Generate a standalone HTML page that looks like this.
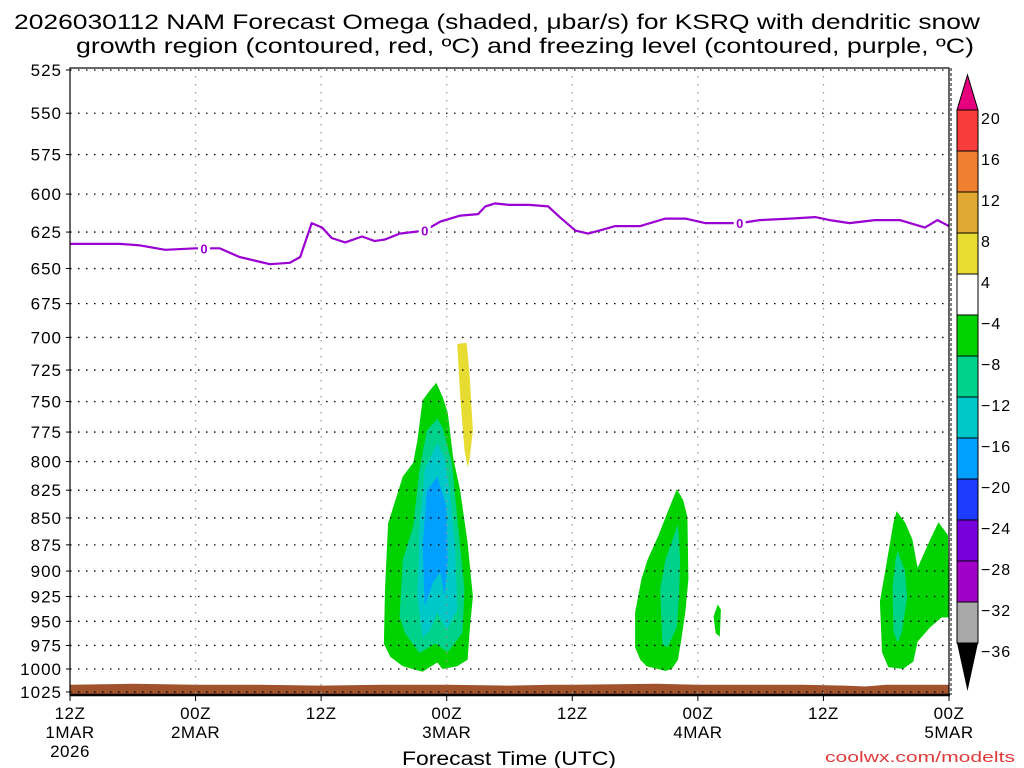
<!DOCTYPE html>
<html><head><meta charset="utf-8"><style>
body{margin:0;background:#fff;}
svg{display:block;font-family:"Liberation Sans",sans-serif;}
</style></head><body>
<svg id="chart" width="1024" height="768" xmlns="http://www.w3.org/2000/svg">
<g id="title">
<text x="14" y="29" font-size="21" textLength="966" lengthAdjust="spacingAndGlyphs" fill="#000">2026030112 NAM Forecast Omega (shaded, μbar/s) for KSRQ with dendritic snow</text>
<text x="76" y="53" font-size="21" textLength="898" lengthAdjust="spacingAndGlyphs" fill="#000">growth region (contoured, red, ºC) and freezing level (contoured, purple, ºC)</text>
</g>
<g id="fills"></g>
<g id="grid"></g>
<g id="lines"></g>
<g id="axes"></g>
<g id="cbar"></g>
<text x="402" y="765" font-size="19" textLength="214" lengthAdjust="spacingAndGlyphs">Forecast Time (UTC)</text>
<text x="825" y="762" font-size="15" textLength="190" lengthAdjust="spacingAndGlyphs" fill="#e03a3a">coolwx.com/modelts</text>
</svg>
<script>
const pTicks=[525,550,575,600,625,650,675,700,725,750,775,800,825,850,875,900,925,950,975,1000,1025];
const xTickHours=[0,12,24,36,48,60,72,84];
const xTickLabels=[["12Z","1MAR","2026"],["00Z","2MAR"],["12Z"],["00Z","3MAR"],["12Z"],["00Z","4MAR"],["12Z"],["00Z","5MAR"]];
const fzHours=[0,4.8,6.7,9.1,12,14.3,16.2,19.1,21,22,23.1,24.1,25,26.3,27.9,29.1,30.1,31.5,33.9,35.4,37.3,39,39.7,40.6,42,43.9,45.7,46.8,48.3,49.5,50.6,52.1,54.5,56.9,58.8,60.7,64,65.9,68.8,71.2,72.6,74.5,76.9,79.3,81.7,82.9,84];
const fzPres=[633,633,634,637,636,636,642,647,646,642,619,622,629,632,628,631,630,626,624,618,614,613,608,606,607,607,608,615,624,626,624,621,621,616,616,619,619,617,616,615,617,619,617,617,622,617,621];
const fzLabelHours=[12.8,33.9,64];
const groundHours=[0,6,12,18,24,30,36,42,46,48,56,60,70,74,76,78,84];
const groundPres=[1017,1016,1017,1017,1018,1017,1017,1018,1017,1017,1016,1017,1017,1018,1019,1017,1017];
const cbarLevels=[20,16,12,8,4,-4,-8,-12,-16,-20,-24,-28,-32,-36];
const cbarColors=["#f83c3c","#f08030","#e0a830","#e6dc32","#ffffff","#00d200","#00d28c","#00c8c8","#00a0ff","#1e3cff","#7800dc","#a000c8","#a8a8a8"];
const blobAGreenH=[35.0,34.4,33.7,33.2,32.8,31.8,31.1,30.4,30.1,30.0,30.6,31.8,33.7,35.1,35.6,37.0,38.0,38.2,38.5,38.0,37.3,36.6,36.1,35.6];
const blobAGreenP=[735,741,749,782,801,813,834,855,918,973,987,997,1003,993,1000,997,990,959,925,873,826,796,759,746];
const blobATealH=[35.1,34.1,33.4,32.8,31.8,31.5,32.0,33.4,34.9,36.1,37.5,37.7,37.1,36.5,35.6];
const blobATealP=[764,774,807,858,889,945,962,983,973,982,962,918,858,801,771];
const blobACyanH=[35.1,33.9,33.4,33.2,33.7,34.4,35.1,36.0,37.0,36.8,36.3,35.8];
const blobACyanP=[784,807,858,925,967,959,941,959,938,877,826,797];
const blobABlueH=[35.1,34.1,33.7,33.9,34.7,35.4,35.8,36.1,36.0];
const blobABlueP=[813,826,877,935,911,901,925,891,840];
const blobYellowH=[37.0,37.9,38.2,38.5,38.2,38.0,37.7,37.3];
const blobYellowP=[705,704,730,774,797,805,790,747];
const blobBGreenH=[58.0,58.6,59.0,59.1,58.8,58.4,58.1,57.5,56.9,55.1,54.5,54.0,54.0,54.6,55.2,56.2,57.1];
const blobBGreenP=[824,834,849,908,941,970,990,1000,1002,997,990,977,941,908,889,867,845];
const blobBTealH=[58.1,58.3,58.2,58.0,57.1,56.6,56.4,56.9];
const blobBTealP=[856,889,925,956,977,973,918,889];
const blobSmallH=[61.9,62.2,62.1,61.7,61.5];
const blobSmallP=[933,938,966,962,945];
const blobCGreenH=[79.0,79.8,80.5,81.0,82.2,83.0,83.9,84.0,83.3,82.2,81.0,80.6,79.6,78.2,77.6,77.4,77.9,78.7];
const blobCGreenP=[844,854,870,897,870,854,866,946,946,956,971,992,1000,998,982,930,900,854];
const blobCTealH=[79.1,79.8,80.0,79.5,79.1,78.7,78.6,78.9];
const blobCTealP=[881,900,926,961,972,961,916,889];

const NS="http://www.w3.org/2000/svg";
const X0=70,X1=949,Y0=70,PLOT_TOP=68,PLOT_BOT=695;
const xs=h=>X0+(X1-X0)*h/84;
const ys=p=>Y0+929.6*Math.log(p/525);
function mk(parent,tag,attrs){const e=document.createElementNS(NS,tag);for(const k in attrs)e.setAttribute(k,attrs[k]);document.getElementById(parent).appendChild(e);return e;}

const fills=[["#00d200",blobAGreenH,blobAGreenP,"omega-blob-a-8"],["#00d28c",blobATealH,blobATealP,"omega-blob-a-12"],["#00c8c8",blobACyanH,blobACyanP,"omega-blob-a-16"],["#00a0ff",blobABlueH,blobABlueP,"omega-blob-a-20"],["#e6dc32",blobYellowH,blobYellowP,"omega-blob-positive"],["#00d200",blobBGreenH,blobBGreenP,"omega-blob-b-8"],["#00d28c",blobBTealH,blobBTealP,"omega-blob-b-12"],["#00d200",blobSmallH,blobSmallP,"omega-blob-small"],["#00d200",blobCGreenH,blobCGreenP,"omega-blob-c-8"],["#00d28c",blobCTealH,blobCTealP,"omega-blob-c-12"]];
fills.forEach(f=>{
  const pts=f[1].map((h,i)=>xs(h).toFixed(1)+","+ys(f[2][i]).toFixed(1)).join(" ");
  const el=mk("fills","polygon",{points:pts,fill:f[0]});
  
  
});
{
  let pts=groundHours.map((h,i)=>xs(h).toFixed(1)+","+ys(groundPres[i]).toFixed(1)).join(" ");
  pts+=" "+X1+","+PLOT_BOT+" "+X0+","+PLOT_BOT;
  const el=mk("fills","polygon",{points:pts,fill:"#a0522d"});
  
  
}
pTicks.forEach(p=>{
  const y=ys(p);
  const l=mk("grid","line",{x1:X0,x2:X1,y1:y,y2:y,stroke:"#000","stroke-width":1.3,"stroke-dasharray":"1.5 6.5"});
  
  
  const t=mk("axes","text",{x:62,y:y+6,"font-size":17,"text-anchor":"end","letter-spacing":"1"});
  t.textContent=p;
  
  
  const tk=mk("axes","line",{x1:X0-4,x2:X0,y1:y,y2:y,stroke:"#000"});
  
  
});
xTickHours.forEach((h,i)=>{
  const x=xs(h);
  if(i>0&&i<xTickHours.length-1){
    const l=mk("grid","line",{x1:x,x2:x,y1:PLOT_TOP,y2:PLOT_BOT,stroke:"#999","stroke-width":1.3,"stroke-dasharray":"1.5 6.5"});
    
    
  }
  const tk=mk("axes","line",{x1:x,x2:x,y1:PLOT_BOT,y2:PLOT_BOT+6,stroke:"#000"});
  
  
  xTickLabels[i].forEach((s,j)=>{
    const t=mk("axes","text",{x:x,y:719+j*19,"font-size":17,"text-anchor":"middle","letter-spacing":"0.5"});
    t.textContent=s;
    
    
  });
});
{
  const d=fzHours.map((h,i)=>(i?"L":"M")+xs(h).toFixed(1)+","+ys(fzPres[i]).toFixed(1)).join("");
  const el=mk("lines","path",{d:d,fill:"none",stroke:"#9b00d2","stroke-width":2.2,"stroke-linejoin":"round"});
  
  
  fzLabelHours.forEach(h=>{
    let k=0;while(k<fzHours.length-1&&fzHours[k+1]<h)k++;
    const f=(h-fzHours[k])/(fzHours[k+1]-fzHours[k]);
    const p=fzPres[k]+f*(fzPres[k+1]-fzPres[k]);
    const bg=mk("lines","rect",{x:xs(h)-6,y:ys(p)-7,width:12,height:14,fill:"#fff"});
    
    
    const t=mk("lines","text",{x:xs(h),y:ys(p)+5,"font-size":13,"font-weight":"bold","text-anchor":"middle",fill:"#9b00d2"});
    t.textContent="0";
    
    
  });
}
{
  const r=mk("axes","rect",{x:X0,y:PLOT_TOP,width:X1-X0,height:PLOT_BOT-PLOT_TOP,fill:"none",stroke:"#000","stroke-width":1.2});
  
  
  const b=mk("axes","line",{x1:X0,x2:X1+1,y1:PLOT_BOT,y2:PLOT_BOT,stroke:"#000","stroke-width":2.5});
  
  
  const rr=mk("axes","line",{x1:X1+2,x2:X1+2,y1:PLOT_TOP,y2:PLOT_BOT,stroke:"#000","stroke-width":1,"stroke-dasharray":"3 2"});
  
  
}
{
  const cx0=957,cx1=978,top=110,step=41;
  const tri=mk("cbar","polygon",{points:`${cx0},${top} ${cx1},${top} ${(cx0+cx1)/2},${top-35}`,fill:"#e6007e",stroke:"#000"});
  
  
  cbarColors.forEach((c,i)=>{
    const r=mk("cbar","rect",{x:cx0,y:top+i*step,width:cx1-cx0,height:step,fill:c,stroke:"#000","stroke-width":1});
    
    
  });
  const yb=top+cbarColors.length*step;
  const tri2=mk("cbar","polygon",{points:`${cx0},${yb} ${cx1},${yb} ${(cx0+cx1)/2},${yb+48}`,fill:"#000"});
  
  
  cbarLevels.forEach((v,i)=>{
    const t=mk("cbar","text",{x:981,y:top+i*step+14,"font-size":16,"letter-spacing":"1"});
    t.textContent=v<0?"−"+(-v):String(v);
    
    
  });
}
</script>
</body></html>
